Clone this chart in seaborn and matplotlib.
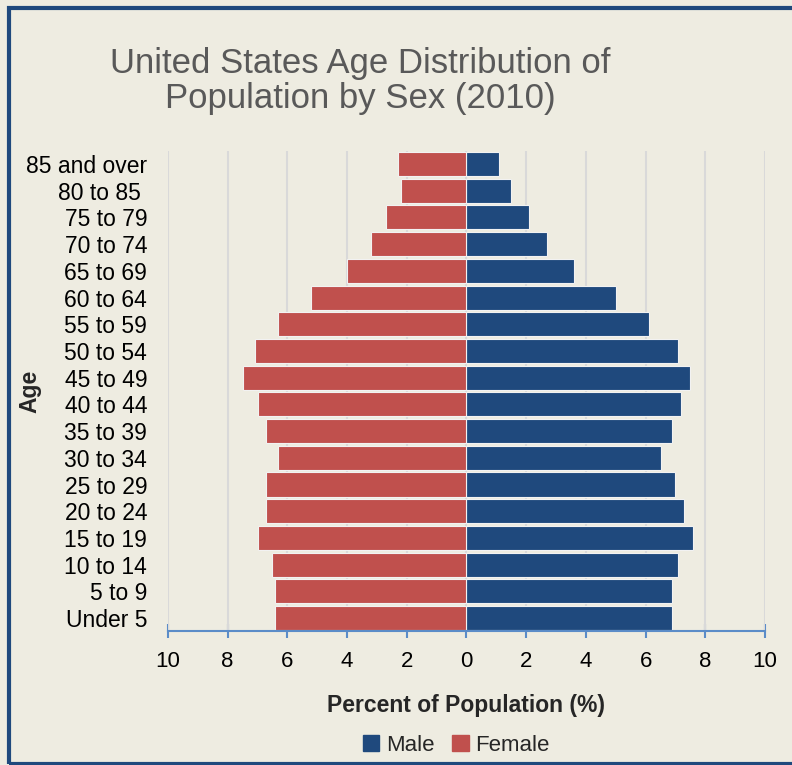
import pandas as pd
import numpy as np
import matplotlib
matplotlib.use('Agg')
import matplotlib.pyplot as plt
import matplotlib.patches as mpatches
import seaborn as sns

# age groups, top of the pyramid first
age_groups = ['85 and over', '80 to 85 ', '75 to 79', '70 to 74', '65 to 69',
              '60 to 64', '55 to 59', '50 to 54', '45 to 49', '40 to 44',
              '35 to 39', '30 to 34', '25 to 29', '20 to 24', '15 to 19',
              '10 to 14', '5 to 9', 'Under 5']

# percent of population
male_pct = [1.1, 1.5, 2.1, 2.7, 3.6, 5.0, 6.1, 7.1, 7.5, 7.2,
            6.9, 6.5, 7.0, 7.3, 7.6, 7.1, 6.9, 6.9]
female_pct = [2.3, 2.2, 2.7, 3.2, 4.0, 5.2, 6.3, 7.1, 7.5, 7.0,
              6.7, 6.3, 6.7, 6.7, 7.0, 6.5, 6.4, 6.4]

x_ticks = [-10, -8, -6, -4, -2, 0, 2, 4, 6, 8, 10]
x_tick_labels = ['10', '8', '6', '4', '2', '0', '2', '4', '6', '8', '10']

bg = '#EEECE1'
male_col = '#1F497D'
female_col = '#C0504D'
axis_col = '#5B8CC8'

# build long table, females drawn to the left
df = pd.DataFrame({
    'Age': age_groups * 2,
    'Percent': male_pct + [-v for v in female_pct],
    'Sex': ['Male'] * len(age_groups) + ['Female'] * len(age_groups),
})

sns.set_style('white')
plt.rcParams['font.family'] = ['Liberation Sans', 'DejaVu Sans']

fig = plt.figure(figsize=(7.92, 7.65), dpi=100, facecolor=bg)
ax = fig.add_axes([0.2121, 0.1746, 0.7538, 0.6285])
ax.set_facecolor(bg)

sns.barplot(data=df, x='Percent', y='Age', hue='Sex', order=age_groups,
            hue_order=['Male', 'Female'], palette=[male_col, female_col],
            dodge=False, width=0.9, orient='h', legend=False, saturation=1,
            edgecolor='#F2F2F2', linewidth=0.8, ax=ax, zorder=3)

ax.set_xlim(-10, 10)
ax.set_ylim(len(age_groups) - 0.5, -0.5)
ax.set_xticks(x_ticks)
ax.set_xticklabels(x_tick_labels, fontsize=16)
ax.tick_params(axis='x', bottom=True, direction='inout', length=9.5, width=1.5,
               color=axis_col, pad=9, labelcolor='black')
ax.tick_params(axis='y', left=False, length=0, pad=15, labelsize=16.5,
               labelcolor='black')

# vertical grid lines
for t in x_ticks:
    ax.axvline(t, color='#D9D9D9', lw=1.5, zorder=1)

for s in ['top', 'right', 'left']:
    ax.spines[s].set_visible(False)
ax.spines['bottom'].set_color(axis_col)
ax.spines['bottom'].set_linewidth(1.5)
ax.spines['bottom'].set_zorder(4)

ax.set_xlabel('Percent of Population (%)', fontsize=16.5, fontweight='bold',
              labelpad=16)
ax.set_ylabel('')
fig.text(0.038, 0.488, 'Age', rotation=90, ha='center', va='center',
         fontsize=16.5, fontweight='bold')

fig.text(0.4545, 0.938, 'United States Age Distribution of\nPopulation by Sex (2010)',
         ha='center', va='top', fontsize=25, color='#595959', linespacing=1.05)

handles = [mpatches.Patch(color=male_col, label='Male'),
           mpatches.Patch(color=female_col, label='Female')]
fig.legend(handles=handles, loc='center', bbox_to_anchor=(0.576, 0.026),
           ncol=2, frameon=False, fontsize=16, handlelength=0.75,
           handleheight=0.75, handletextpad=0.3, columnspacing=0.8)

# dark blue frame around the chart
frame = mpatches.Rectangle((0.0114, 0.0019), 1.05, 0.9876,
                           transform=fig.transFigure, fill=False,
                           edgecolor=male_col, lw=3, clip_on=False)
fig.patches.append(frame)

fig.savefig('out.png', dpi=100, facecolor=bg)
